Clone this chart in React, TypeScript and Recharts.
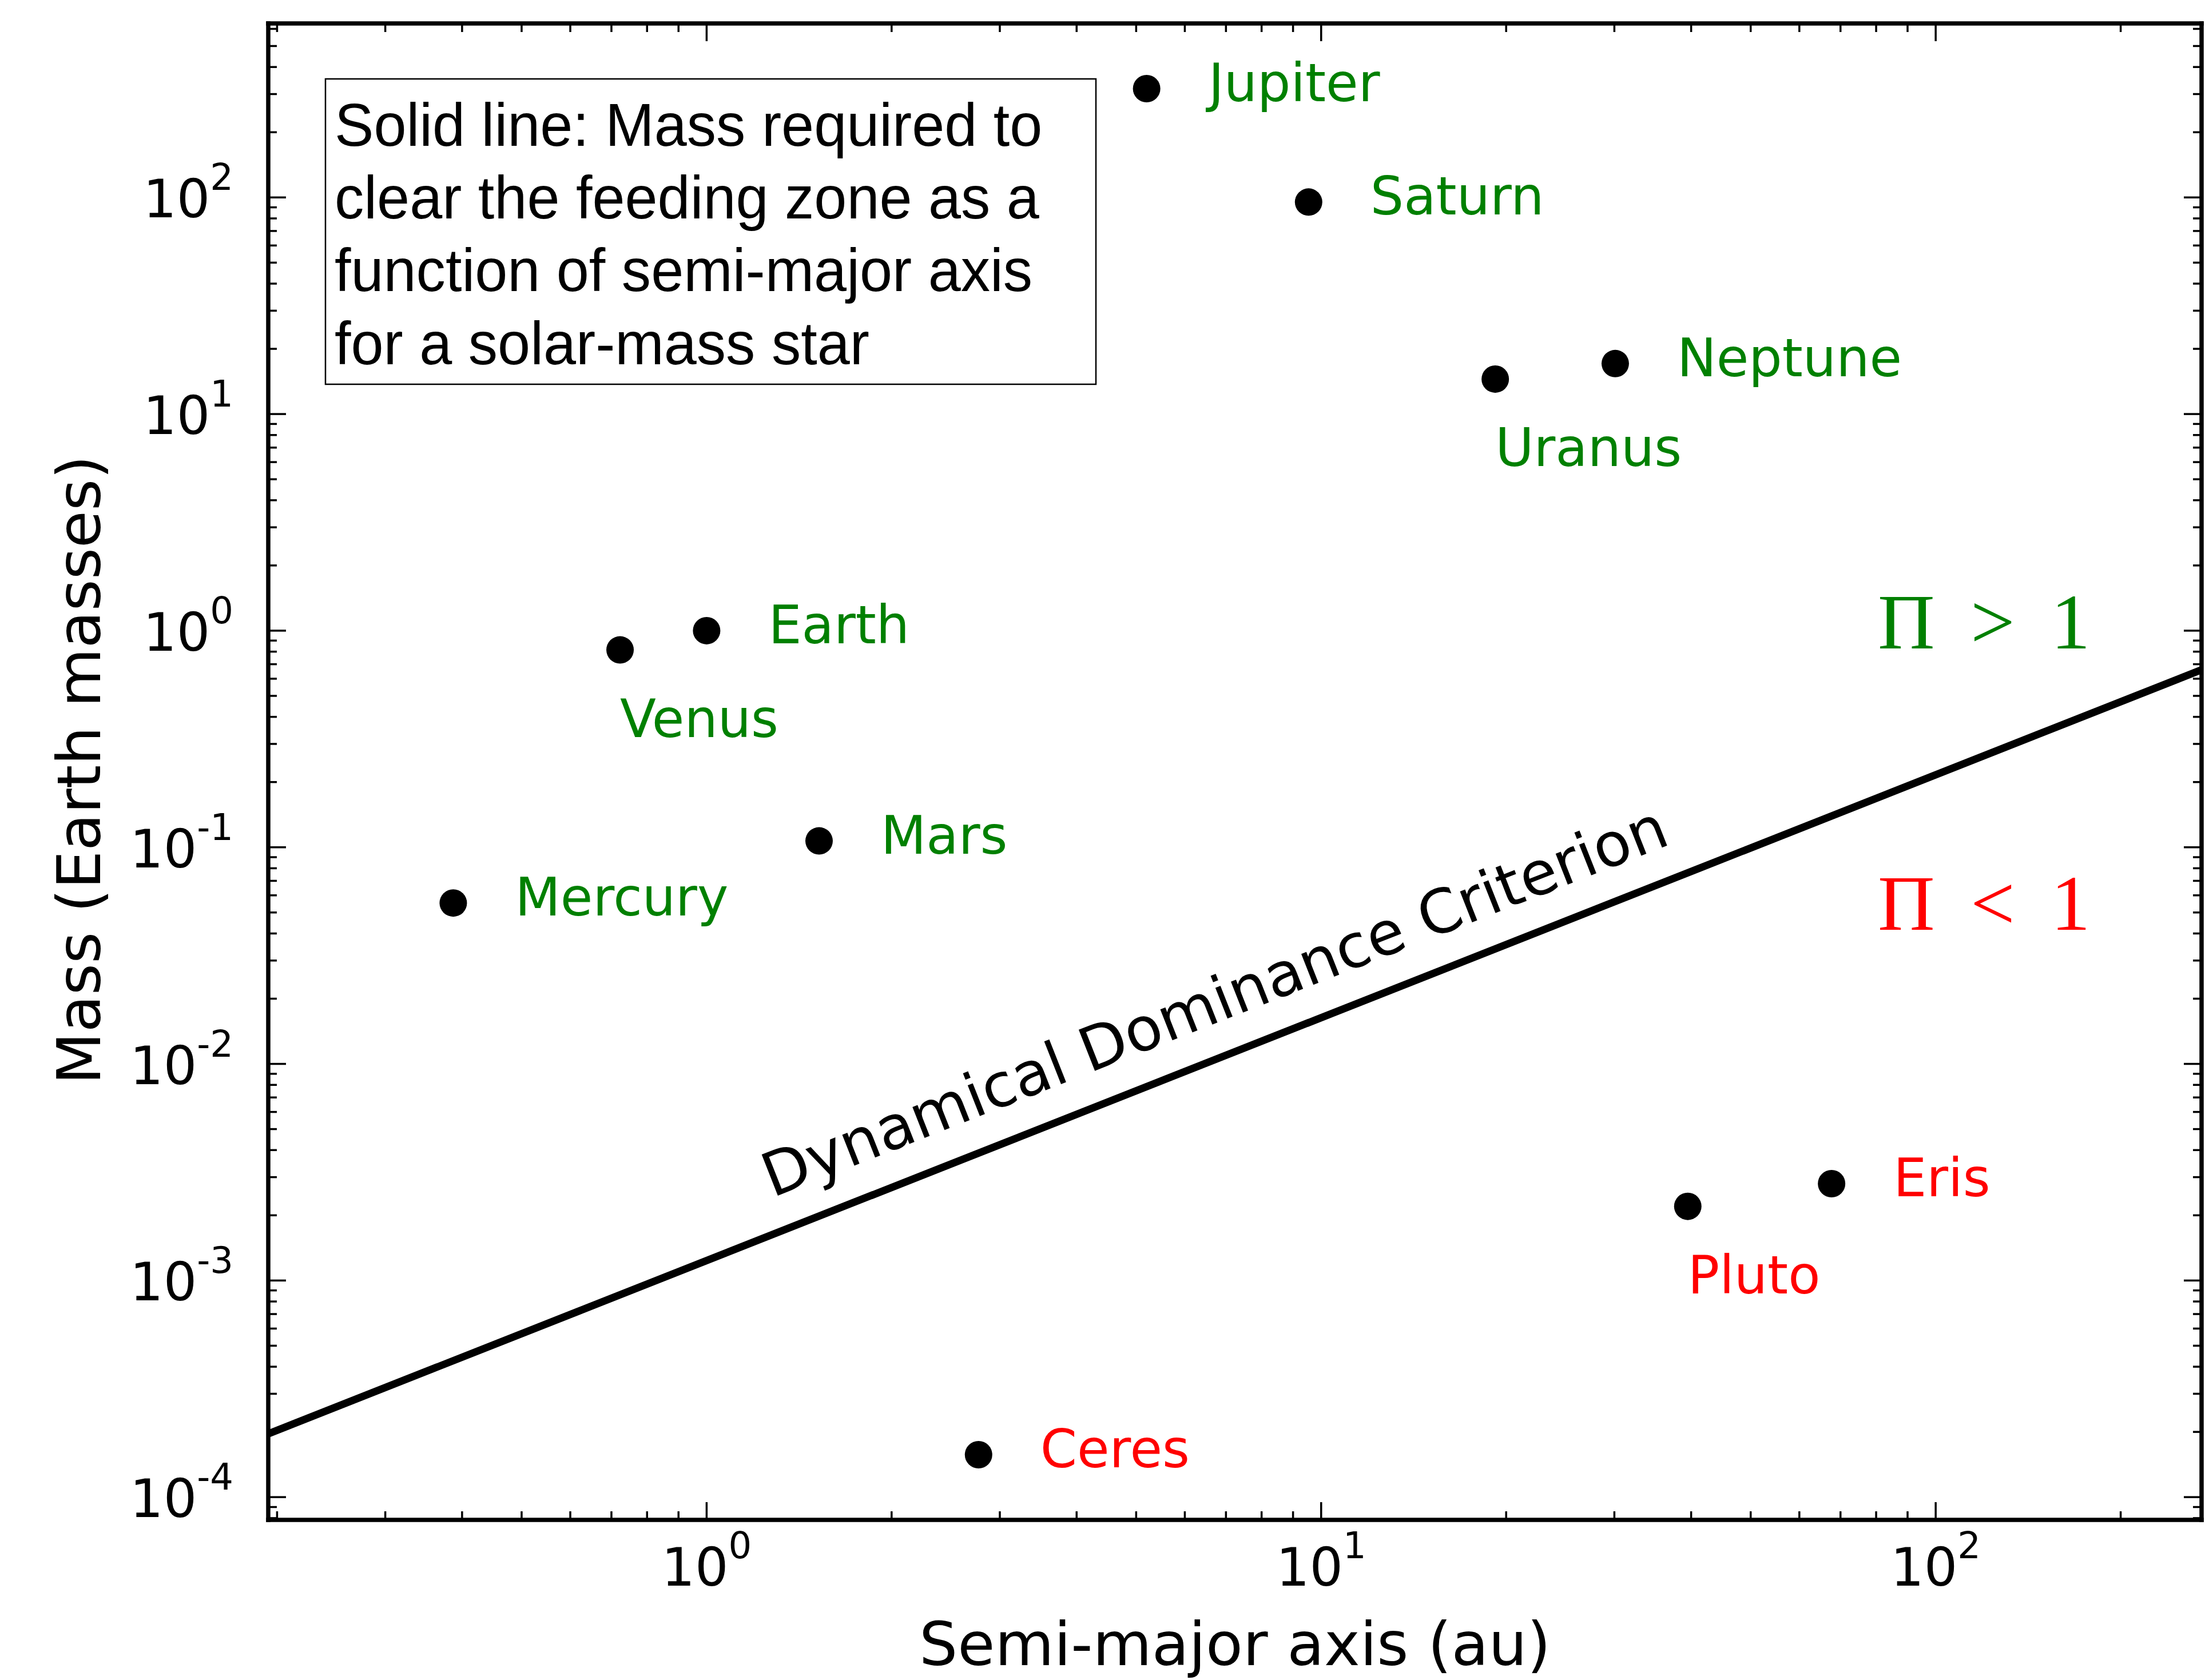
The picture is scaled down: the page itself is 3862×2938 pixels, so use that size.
import React from "react";
import { Scatter, ScatterChart, XAxis, YAxis } from "recharts";

// semi-major axis (au) and mass (Earth masses)
const planetNames = ["Mercury", "Venus", "Earth", "Mars", "Jupiter", "Saturn", "Uranus", "Neptune"];
const planetAxis = [0.387, 0.723, 1.0, 1.524, 5.2, 9.54, 19.2, 30.1];
const planetMass = [0.0553, 0.815, 1.0, 0.107, 317.8, 95.2, 14.5, 17.1];

const dwarfNames = ["Ceres", "Pluto", "Eris"];
const dwarfAxis = [2.77, 39.5, 67.7];
const dwarfMass = [0.000157, 0.0022, 0.0028];

const labelsBelow = ["Venus", "Uranus", "Pluto"];

// dynamical dominance criterion, end points at the plot edges
const criterionAxis = [0.1935, 270.8];
const criterionMass = [1.96e-4, 0.66];

const xDomain = [0.1935, 270.8];
const yDomain = [7.85e-5, 635.6];

const xTicks = [
  0.2, 0.3, 0.4, 0.5, 0.6, 0.7, 0.8, 0.9,
  1, 2, 3, 4, 5, 6, 7, 8, 9,
  10, 20, 30, 40, 50, 60, 70, 80, 90,
  100, 200,
];
const yTicks = [
  8e-5, 9e-5,
  1e-4, 2e-4, 3e-4, 4e-4, 5e-4, 6e-4, 7e-4, 8e-4, 9e-4,
  1e-3, 2e-3, 3e-3, 4e-3, 5e-3, 6e-3, 7e-3, 8e-3, 9e-3,
  0.01, 0.02, 0.03, 0.04, 0.05, 0.06, 0.07, 0.08, 0.09,
  0.1, 0.2, 0.3, 0.4, 0.5, 0.6, 0.7, 0.8, 0.9,
  1, 2, 3, 4, 5, 6, 7, 8, 9,
  10, 20, 30, 40, 50, 60, 70, 80, 90,
  100, 200, 300, 400, 500, 600,
];

const regionText = ["Π > 1", "Π < 1"];
const regionAxis = [80.5, 80.5];
const regionMass = [0.827, 0.0416];
const regionColor = ["#008000", "#ff0000"];

const criterionLabel = { text: "Dynamical Dominance Criterion", a: 6.9, m: 0.01582 };

const boxLines = [
  "Solid line: Mass required to",
  "clear the feeding zone as a",
  "function of semi-major axis",
  "for a solar-mass star",
];

const planets = planetNames.map((name, i) => ({ name, a: planetAxis[i], m: planetMass[i] }));
const dwarfs = dwarfNames.map((name, i) => ({ name, a: dwarfAxis[i], m: dwarfMass[i] }));
const criterion = criterionAxis.map((a, i) => ({ a, m: criterionMass[i] }));
const regions = regionText.map((text, i) => ({ text, a: regionAxis[i], m: regionMass[i], color: regionColor[i] }));

const FONT = "DejaVu Sans";
const W = 3862;
const H = 2938;

function exponentOf(v: number) {
  const l = Math.log10(v);
  const r = Math.round(l);
  return Math.abs(l - r) < 1e-6 ? r : null;
}

function AxisTick(props: any) {
  const { x, y, payload, side } = props;
  const exp = exponentOf(payload.value);
  const len = exp !== null ? 31 : 15;
  const line = { stroke: "#000", strokeWidth: 3.5 };
  if (side === "bottom") {
    return (
      <g>
        <line x1={x} y1={y} x2={x} y2={y - len} {...line} />
        {exp !== null && (
          <text x={x} y={y + 115} textAnchor="middle" fontFamily={FONT} fontSize={92} fill="#000">
            10<tspan dy={-48} fontSize={64}>{String(exp)}</tspan>
          </text>
        )}
      </g>
    );
  }
  if (side === "top") {
    return <line x1={x} y1={y} x2={x} y2={y + len} {...line} />;
  }
  if (side === "left") {
    return (
      <g>
        <line x1={x} y1={y} x2={x + len} y2={y} {...line} />
        {exp !== null && (
          <text x={x - 61} y={y + 35} textAnchor="end" fontFamily={FONT} fontSize={92} fill="#000">
            10<tspan dy={-48} fontSize={64}>{String(exp)}</tspan>
          </text>
        )}
      </g>
    );
  }
  return <line x1={x} y1={y} x2={x - len} y2={y} {...line} />;
}

const bodyShape = (color: string) => (props: any) => {
  const { cx, cy, payload } = props;
  const below = labelsBelow.includes(payload.name);
  return (
    <g>
      <circle cx={cx} cy={cy} r={24} fill="#000" />
      <text
        x={below ? cx : cx + 108}
        y={below ? cy + 152 : cy + 22}
        fill={color}
        fontSize={92}
        fontFamily={FONT}
      >
        {payload.name}
      </text>
    </g>
  );
};

const spine = { stroke: "#000", strokeWidth: 7.5, strokeLinecap: "square" as const };

export default function App() {
  return (
    <div style={{ position: "absolute", left: 0, top: 0, width: W, height: H, background: "#fff" }}>
      <ScatterChart width={W} height={H} margin={{ top: 0, right: 0, bottom: 0, left: 0 }}>
        <XAxis
          xAxisId="x"
          dataKey="a"
          type="number"
          scale="log"
          domain={xDomain}
          allowDataOverflow
          ticks={xTicks}
          interval={0}
          height={280}
          tickSize={0}
          tickMargin={0}
          tickLine={false}
          axisLine={spine}
          tick={(p: any) => <AxisTick {...p} side="bottom" />}
          label={{
            content: (p: any) => {
              const vb = p.viewBox;
              return (
                <text x={vb.x + vb.width / 2} y={vb.y + 254} textAnchor="middle" fontFamily={FONT} fontSize={106} fill="#000">
                  Semi-major axis (au)
                </text>
              );
            },
          }}
        />
        <XAxis
          xAxisId="xTop"
          orientation="top"
          dataKey="a"
          type="number"
          scale="log"
          domain={xDomain}
          allowDataOverflow
          ticks={xTicks}
          interval={0}
          height={41}
          tickSize={0}
          tickMargin={0}
          tickLine={false}
          axisLine={spine}
          tick={(p: any) => <AxisTick {...p} side="top" />}
        />
        <YAxis
          yAxisId="y"
          dataKey="m"
          type="number"
          scale="log"
          domain={yDomain}
          allowDataOverflow
          ticks={yTicks}
          interval={0}
          width={469}
          tickSize={0}
          tickMargin={0}
          tickLine={false}
          axisLine={spine}
          tick={(p: any) => <AxisTick {...p} side="left" />}
          label={{
            content: (p: any) => {
              const vb = p.viewBox;
              const cy = vb.y + vb.height / 2 - 3;
              return (
                <text
                  x={175}
                  y={cy}
                  transform={`rotate(-90 175 ${cy})`}
                  textAnchor="middle"
                  fontFamily={FONT}
                  fontSize={106}
                  fill="#000"
                >
                  Mass (Earth masses)
                </text>
              );
            },
          }}
        />
        <YAxis
          yAxisId="yRight"
          orientation="right"
          dataKey="m"
          type="number"
          scale="log"
          domain={yDomain}
          allowDataOverflow
          ticks={yTicks}
          interval={0}
          width={13}
          tickSize={0}
          tickMargin={0}
          tickLine={false}
          axisLine={spine}
          tick={(p: any) => <AxisTick {...p} side="right" />}
        />
        <Scatter
          xAxisId="x"
          yAxisId="y"
          data={criterion}
          dataKey="m"
          fill="#000"
          line={{ stroke: "#000", strokeWidth: 13 }}
          shape={() => <g />}
          isAnimationActive={false}
        />
        <Scatter
          xAxisId="x"
          yAxisId="y"
          data={[criterionLabel]}
          dataKey="m"
          shape={(p: any) => (
            <text
              x={p.cx}
              y={p.cy}
              transform={`rotate(-21.5 ${p.cx} ${p.cy})`}
              textAnchor="middle"
              fontFamily={FONT}
              fontSize={106}
              fill="#000"
            >
              {p.payload.text}
            </text>
          )}
          isAnimationActive={false}
        />
        <Scatter
          xAxisId="x"
          yAxisId="y"
          data={regions}
          dataKey="m"
          shape={(p: any) => (
            <text
              x={p.cx}
              y={p.cy}
              fontFamily="Liberation Serif"
              fontSize={138}
              wordSpacing={28}
              fill={p.payload.color}
            >
              {p.payload.text}
            </text>
          )}
          isAnimationActive={false}
        />
        <Scatter xAxisId="x" yAxisId="y" data={planets} dataKey="m" shape={bodyShape("#008000")} isAnimationActive={false} />
        <Scatter xAxisId="x" yAxisId="y" data={dwarfs} dataKey="m" shape={bodyShape("#ff0000")} isAnimationActive={false} />
      </ScatterChart>
      <svg width={W} height={H} style={{ position: "absolute", left: 0, top: 0, pointerEvents: "none" }}>
        <rect x={569} y={138} width={1347} height={534} fill="#fff" stroke="#000" strokeWidth={2.5} />
        <g transform="translate(585 0) scale(0.968 1)">
          {boxLines.map((t, i) => (
            <text key={t} x={0} y={255 + i * 127.2} fontFamily="Liberation Sans" fontSize={106} fill="#000">
              {t}
            </text>
          ))}
        </g>
      </svg>
    </div>
  );
}
